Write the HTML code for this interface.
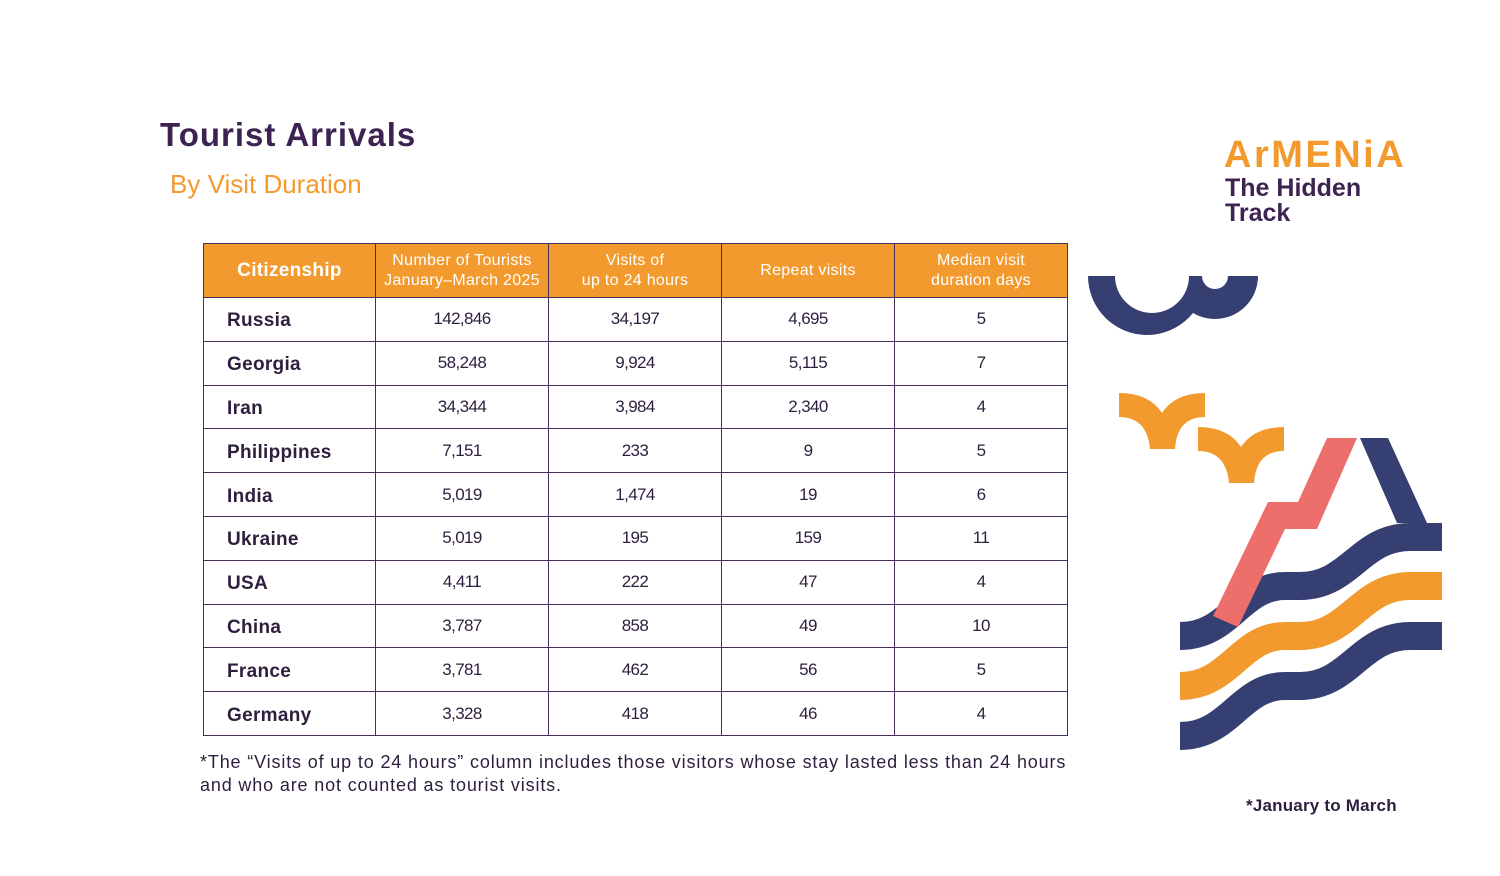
<!DOCTYPE html>
<html><head><meta charset="utf-8"><style>
body{margin:0;width:1500px;height:876px;background:#fff;position:relative;overflow:hidden;font-family:"Liberation Sans",sans-serif;}
.abs{position:absolute;white-space:nowrap;}
table{position:absolute;left:203px;top:243px;border-collapse:collapse;}
td,th{border:1px solid #4a3058;padding:0;text-align:center;color:#2e1f3d;}
th{background:#f39a2e;color:#fff;font-weight:normal;font-size:16px;line-height:20px;height:53px;letter-spacing:0.3px;}
th.c{font-weight:bold;font-size:19px;}
td{height:42.8px;font-size:17px;letter-spacing:-0.6px;}
td.n{text-align:left;font-weight:bold;font-size:19px;padding-left:23px;letter-spacing:0.3px;padding-top:4px;height:38.8px;}
</style></head><body>
<div class="abs" style="left:160px;top:116px;font-size:33px;font-weight:bold;color:#3d2352;letter-spacing:1px;">Tourist Arrivals</div>
<div class="abs" style="left:170px;top:169px;font-size:26px;color:#f39a2e;">By Visit Duration</div>
<div class="abs" style="left:1224px;top:134px;font-size:38px;font-weight:bold;color:#f39a2e;letter-spacing:2.5px;">ArMENiA</div>
<div class="abs" style="left:1225px;top:176px;font-size:25px;font-weight:bold;color:#3d2352;line-height:25px;">The Hidden<br>Track</div>
<table>
<tr><th class="c" style="width:171px">Citizenship</th><th style="width:172px">Number of Tourists<br>January–March 2025</th><th style="width:172px">Visits of<br>up to 24 hours</th><th style="width:172px">Repeat visits</th><th style="width:172px">Median visit<br>duration days</th></tr>
<tr><td class="n">Russia</td><td>142,846</td><td>34,197</td><td>4,695</td><td>5</td></tr>
<tr><td class="n">Georgia</td><td>58,248</td><td>9,924</td><td>5,115</td><td>7</td></tr>
<tr><td class="n">Iran</td><td>34,344</td><td>3,984</td><td>2,340</td><td>4</td></tr>
<tr><td class="n">Philippines</td><td>7,151</td><td>233</td><td>9</td><td>5</td></tr>
<tr><td class="n">India</td><td>5,019</td><td>1,474</td><td>19</td><td>6</td></tr>
<tr><td class="n">Ukraine</td><td>5,019</td><td>195</td><td>159</td><td>11</td></tr>
<tr><td class="n">USA</td><td>4,411</td><td>222</td><td>47</td><td>4</td></tr>
<tr><td class="n">China</td><td>3,787</td><td>858</td><td>49</td><td>10</td></tr>
<tr><td class="n">France</td><td>3,781</td><td>462</td><td>56</td><td>5</td></tr>
<tr><td class="n">Germany</td><td>3,328</td><td>418</td><td>46</td><td>4</td></tr>
</table>
<div class="abs" style="left:200px;top:751px;font-size:18px;color:#2e1f3d;line-height:23px;letter-spacing:0.85px;">*The “Visits of up to 24 hours” column includes those visitors whose stay lasted less than 24 hours<br>and who are not counted as tourist visits.</div>
<div class="abs" style="left:1246px;top:796px;font-size:17px;font-weight:bold;color:#2e1f3d;letter-spacing:0.2px;">*January to March</div>
<svg class="abs" style="left:0;top:0" width="1500" height="876">
<path d="M1088,276 A59,59 0 0 0 1206,276 Z" fill="#363f72"/>
<path d="M1172,276 A43,43 0 0 0 1258,276 Z" fill="#363f72"/>
<path d="M1115,276 A37,37 0 0 0 1189,276 Z" fill="#fff"/>
<path d="M1202,276 A13,13 0 0 0 1228,276 Z" fill="#fff"/>
<g fill="#f39a2e">
<path transform="translate(1119,393)" d="M0,0 Q30,0 43,20 Q56,0 86,0 L86,24 Q58,24 56,56 L31,56 Q28,24 0,24 Z"/>
<path transform="translate(1198,427)" d="M0,0 Q30,0 43,20 Q56,0 86,0 L86,24 Q58,24 56,56 L31,56 Q28,24 0,24 Z"/>
</g>
<polygon points="1360,438 1388,438 1427,523 1397,523" fill="#363f72"/>
<g fill="none" stroke-width="28">
<path d="M1180,636 C1230,636 1240,586 1285,586 L1300,586 C1350,586 1360,537 1410,537 L1442,537" stroke="#363f72"/>
<path d="M1180,686 C1230,686 1240,636 1285,636 L1300,636 C1350,636 1360,586 1410,586 L1442,586" stroke="#f39a2e"/>
<path d="M1180,736 C1230,736 1240,686 1285,686 L1300,686 C1350,686 1360,636 1410,636 L1442,636" stroke="#363f72"/>
</g>
<polygon points="1327,438 1357,438 1317,529 1285,529 1238,627 1213,616 1268,502 1298,502" fill="#ec6f6c"/>
</svg>
</body></html>
